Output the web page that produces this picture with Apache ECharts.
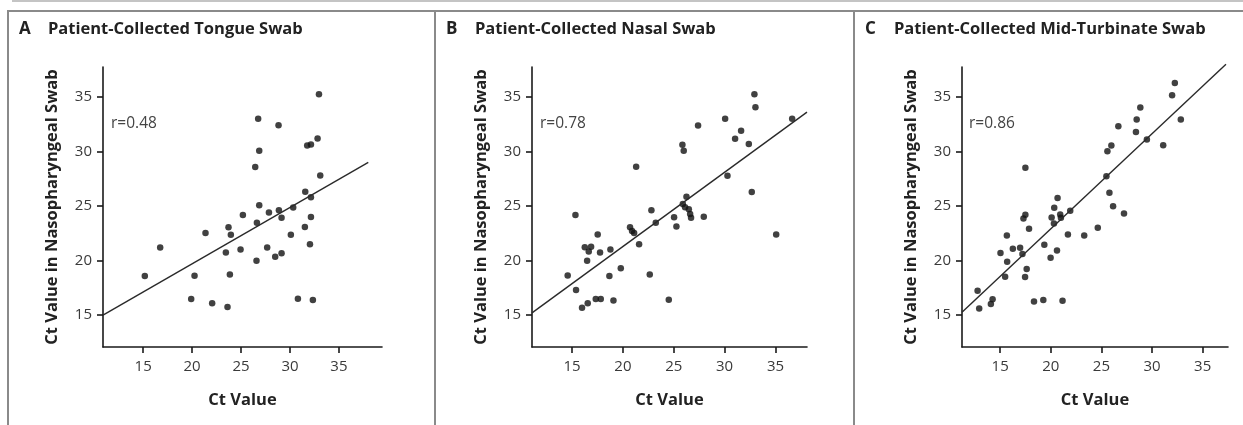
<!DOCTYPE html>
<html>
<head>
<meta charset="utf-8">
<script src="https://cdn.jsdelivr.net/npm/echarts@6/dist/echarts.min.js"></script>
<style>
html,body{margin:0;padding:0;background:#fff;}
#chart{width:1243px;height:425px;}
</style>
</head>
<body>
<div id="chart"></div>
<script>
// ---- Data ----
const panelLetters = ['A', 'B', 'C'];
const panelTitles = ['Patient-Collected Tongue Swab', 'Patient-Collected Nasal Swab', 'Patient-Collected Mid-Turbinate Swab'];
const rLabels = ['r=0.48', 'r=0.78', 'r=0.86'];
const tickValues = [15, 20, 25, 30, 35];
const xAxisName = 'Ct Value';
const yAxisName = 'Ct Value in Nasopharyngeal Swab';

// Panel A: tongue swab Ct (x) vs nasopharyngeal Ct (y)
const tongueX = [32.96,26.75,28.83,32.82,31.76,32.14,26.86,26.45,33.09,31.56,32.14,26.86,30.33,28.87,27.85,25.19,29.14,26.62,23.72,31.52,32.14,23.96,21.37,30.09,32.04,16.74,24.95,27.67,23.45,29.14,28.49,26.58,15.17,20.25,23.86,19.91,30.81,32.34,22.05,23.62];
const tongueY = [35.24,32.99,32.41,31.19,30.55,30.64,30.06,28.57,27.80,26.31,25.79,25.06,24.85,24.60,24.39,24.18,23.93,23.45,23.05,23.08,23.99,22.35,22.53,22.35,21.49,21.19,21.01,21.19,20.73,20.67,20.34,19.97,18.57,18.60,18.72,16.46,16.49,16.37,16.07,15.73];

// Panel B: nasal swab
const nasalX = [32.93,33.03,36.64,30.05,27.39,31.62,31.03,32.38,25.85,25.98,21.30,30.28,32.67,26.25,25.89,26.11,26.48,22.80,15.33,26.61,26.70,27.95,25.03,23.23,25.26,20.70,20.90,21.10,17.52,35.07,21.59,16.25,16.87,16.64,18.77,17.75,16.48,19.79,14.57,18.67,22.64,15.39,17.33,17.82,19.07,24.51,16.54,15.98];
const nasalY = [35.24,34.05,32.99,32.99,32.38,31.89,31.16,30.67,30.61,30.06,28.60,27.77,26.28,25.85,25.18,24.88,24.70,24.60,24.18,24.27,23.93,24.02,23.96,23.45,23.11,23.05,22.71,22.53,22.38,22.38,21.49,21.22,21.25,20.82,21.01,20.73,19.97,19.30,18.63,18.57,18.72,17.29,16.46,16.46,16.34,16.40,16.07,15.67];

// Panel C: mid-turbinate swab
const midX = [32.25,31.98,32.84,28.84,28.48,26.67,28.41,29.49,31.10,25.98,25.59,17.49,25.49,25.79,20.67,20.34,26.15,27.23,21.92,20.93,17.49,17.30,20.08,20.31,21.00,17.85,24.64,15.66,21.69,23.30,16.25,16.97,17.20,15.03,19.36,20.61,19.98,15.69,17.62,15.49,17.46,12.77,12.93,14.25,14.08,18.34,19.26,21.16];
const midY = [36.28,35.15,32.92,34.02,32.92,32.31,31.79,31.09,30.57,30.54,30.02,28.50,27.73,26.21,25.72,24.83,24.98,24.31,24.56,24.22,24.19,23.85,23.95,23.40,23.92,22.91,23.00,22.30,22.39,22.30,21.08,21.17,20.59,20.68,21.44,20.92,20.25,19.89,19.21,18.51,18.48,17.23,15.61,16.44,16.01,16.25,16.37,16.31];

// Fitted regression lines as drawn (endpoints)
const fitAX = [10.9, 38.0], fitAY = [15.0, 29.0];
const fitBX = [11.06, 38.1], fitBY = [15.2, 33.6];
const fitCX = [11.23, 37.3], fitCY = [15.25, 38.0];

// Axis extents
const xMin = [10.9, 11.06, 11.23];
const xMax = [39.4, 38.1, 37.5];
const yMin = 12.07, yMax = 37.74;

// ---- Build chart ----
const pts = (xs, ys) => xs.map((x, i) => [x, ys[i]]);
const scatterData = [pts(tongueX, tongueY), pts(nasalX, nasalY), pts(midX, midY)];
const fitData = [pts(fitAX, fitAY), pts(fitBX, fitBY), pts(fitCX, fitCY)];

const FONT = '"Open Sans", "DejaVu Sans", sans-serif';
const grids = [
  {left: 103, top: 67, width: 279, height: 280},
  {left: 532, top: 67, width: 275, height: 280},
  {left: 962, top: 67, width: 266, height: 280}
];
const titleX = [[19, 48], [446, 475], [865, 894]];
const rPos = [111, 540, 969];

const axisCommon = {
  axisLine: {show: true, onZero: false, lineStyle: {color: '#1a1a1a', width: 1.6}},
  axisTick: {show: true, inside: false, length: 6, customValues: tickValues, lineStyle: {color: '#1a1a1a', width: 1.6}},
  axisLabel: {customValues: tickValues, color: '#3a3a3a', fontSize: 15, fontFamily: FONT},
  splitLine: {show: false},
  nameLocation: 'middle',
  nameTextStyle: {color: '#222', fontSize: 16.5, fontWeight: 'bold', fontFamily: FONT}
};

const xAxis = grids.map((g, i) => Object.assign({}, axisCommon, {
  type: 'value', gridIndex: i, min: xMin[i], max: xMax[i],
  name: xAxisName, nameGap: 45,
  axisLabel: Object.assign({}, axisCommon.axisLabel, {margin: 12})
}));
const yAxis = grids.map((g, i) => Object.assign({}, axisCommon, {
  type: 'value', gridIndex: i, min: yMin, max: yMax,
  name: yAxisName, nameGap: 42,
  axisLabel: Object.assign({}, axisCommon.axisLabel, {margin: 11})
}));

const series = [];
grids.forEach((g, i) => {
  series.push({
    type: 'scatter', xAxisIndex: i, yAxisIndex: i, data: scatterData[i],
    symbol: 'circle', symbolSize: 6.5, itemStyle: {color: '#111'}, silent: true
  });
  series.push({
    type: 'line', xAxisIndex: i, yAxisIndex: i, data: fitData[i], clip: false,
    symbol: 'none', lineStyle: {color: '#2a2a2a', width: 1.4}, silent: true
  });
});

const graphics = [];
// frame lines
graphics.push({type: 'line', shape: {x1: 12, y1: 1, x2: 1243, y2: 1}, style: {stroke: '#c4c4c4', lineWidth: 2}});
graphics.push({type: 'line', shape: {x1: 7, y1: 11, x2: 1243, y2: 11}, style: {stroke: '#8a8a8a', lineWidth: 2}});
[8, 435, 854].forEach(x => graphics.push({type: 'line', shape: {x1: x, y1: 11, x2: x, y2: 425}, style: {stroke: '#8a8a8a', lineWidth: 2}}));
panelLetters.forEach((L, i) => {
  graphics.push({type: 'text', left: titleX[i][0], top: 20.5, style: {text: L, fill: '#222', font: 'bold 17px ' + FONT}});
  graphics.push({type: 'text', left: titleX[i][1], top: 21, style: {text: panelTitles[i], fill: '#222', font: 'bold 16.5px ' + FONT}});
  graphics.push({type: 'text', left: rPos[i], top: 116, style: {text: rLabels[i], fill: '#444', font: '15.5px ' + FONT}});
});

const chart = echarts.init(document.getElementById('chart'), null, {renderer: 'canvas'});
chart.setOption({
  animation: false,
  backgroundColor: '#fff',
  grid: grids,
  xAxis: xAxis,
  yAxis: yAxis,
  series: series,
  graphic: graphics
});
</script>
</body>
</html>
